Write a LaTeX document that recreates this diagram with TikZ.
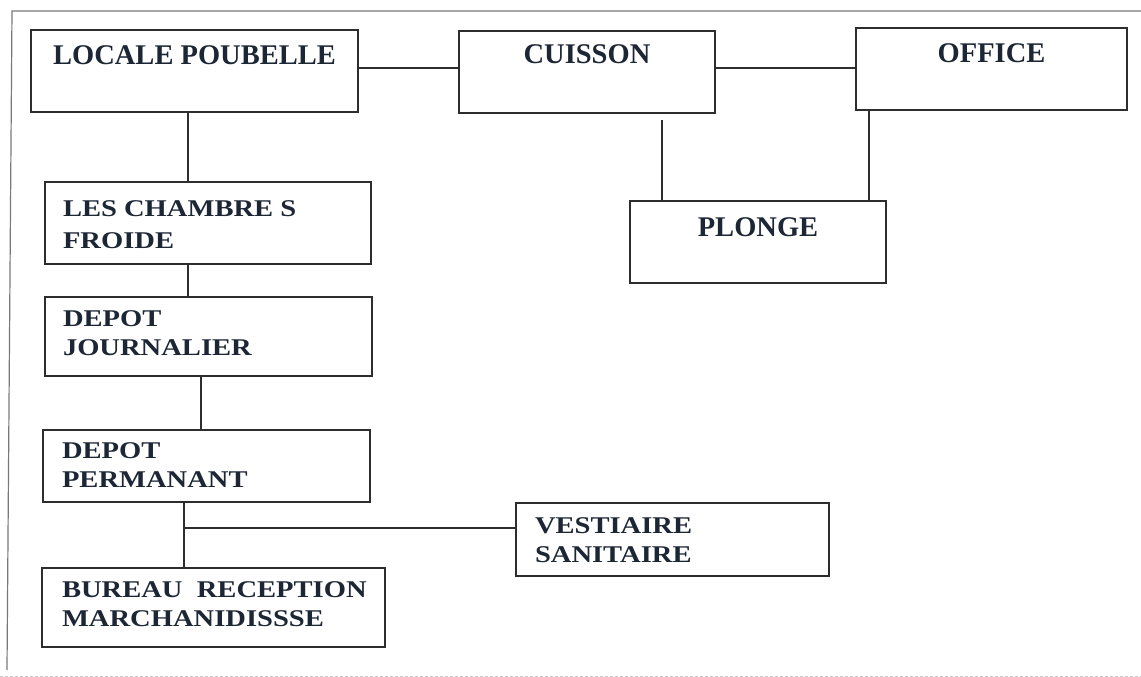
\documentclass[tikz,border=0pt]{standalone}
\usepackage{fontspec}
\setmainfont{Liberation Serif}
\newfontfamily\widefont{Liberation Serif}[FakeStretch=1.19]
\definecolor{textc}{RGB}{28,38,52}
\definecolor{linec}{RGB}{45,45,45}
\definecolor{framec}{RGB}{120,120,120}
\newcommand\singlebox[4]{\parbox[t][#2][t]{#1}{\centering\fontsize{28.5}{34}\selectfont\bfseries\rule{0pt}{#3}#4}}
\newcommand\multibox[6]{\parbox[t][#2][t]{#1}{\widefont\bfseries\fontsize{24}{#4}\selectfont\hspace*{#5}\rule{0pt}{#3}#6}}
\begin{document}
\begin{tikzpicture}[x=1pt,y=-1pt]
\tikzset{
  box/.style={draw=linec, line width=1.8pt, inner sep=0pt, outer sep=0pt, text=textc, anchor=north west},
  conn/.style={draw=linec, line width=1.5pt},
  frame/.style={draw=framec, line width=1.2pt}
}
\useasboundingbox (0,0) rectangle (1141,677);
% outer frame
\draw[frame] (1141,11) -- (12,11) -- (7,670);
\draw[draw=framec!40, line width=1pt, dash pattern=on 3pt off 2pt] (0,676) -- (1141,676);
% boxes
\node[box] (lp) at (31,30)  {\singlebox{327pt}{82pt}{35pt}{LOCALE POUBELLE}};
\node[box] (cu) at (459,31) {\singlebox{256pt}{82pt}{33pt}{CUISSON}};
\node[box] (of) at (856,28) {\singlebox{271pt}{82pt}{35pt}{OFFICE}};
\node[box] (pl) at (630,201){\singlebox{256pt}{82pt}{35pt}{PLONGE}};
\node[box] (ch) at (45,182) {\multibox{326pt}{82pt}{34pt}{32}{18pt}{LES CHAMBRE S\\\hspace*{18pt}FROIDE}};
\node[box] (dj) at (45,297) {\multibox{327pt}{79pt}{29pt}{29}{18pt}{DEPOT\\\hspace*{18pt}JOURNALIER}};
\node[box] (dp) at (43,430) {\multibox{327pt}{72pt}{28pt}{29}{19pt}{DEPOT\\\hspace*{19pt}PERMANANT}};
\node[box] (br) at (42,568) {\multibox{343pt}{79pt}{29pt}{29}{20pt}{BUREAU\ \ RECEPTION\\\hspace*{20pt}MARCHANIDISSSE}};
\node[box] (vs) at (516,503){\multibox{313pt}{73pt}{30pt}{29}{19pt}{VESTIAIRE\\\hspace*{19pt}SANITAIRE}};
% connectors
\draw[conn] (lp.east |- 0,68) -- (cu.west |- 0,68);
\draw[conn] (cu.east |- 0,68) -- (of.west |- 0,68);
\draw[conn] (lp.south -| 188,0) -- (ch.north -| 188,0);
\draw[conn] (cu.south -| 662,0) ++(0,7) -- (pl.north -| 662,0);
\draw[conn] (of.south -| 869,0) -- (pl.north -| 869,0);
\draw[conn] (ch.south -| 188,0) -- (dj.north -| 188,0);
\draw[conn] (dj.south -| 201,0) -- (dp.north -| 201,0);
\draw[conn] (dp.south -| 184,0) -- (br.north -| 184,0);
\coordinate (j) at (184,528);
\draw[conn] (j) -- (vs.west |- j);
\end{tikzpicture}
\end{document}
